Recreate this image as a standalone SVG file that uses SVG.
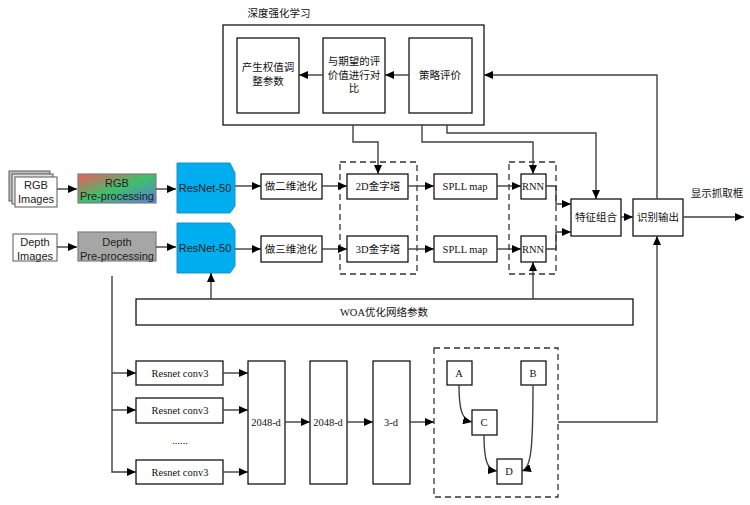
<svg xmlns="http://www.w3.org/2000/svg" width="750" height="505" viewBox="0 0 750 505">
<defs>
<marker id="ah" markerUnits="userSpaceOnUse" markerWidth="9" markerHeight="8" refX="9" refY="4" orient="auto">
<path d="M0,0 L9,4 L0,8 Z" fill="#000"/>
</marker>
<linearGradient id="rgb" x1="0" y1="0" x2="1" y2="1">
<stop offset="0" stop-color="#f25a5a"/>
<stop offset="0.5" stop-color="#3fbf6a"/>
<stop offset="1" stop-color="#5a7fd6"/>
</linearGradient>
<style>
.b{fill:#fff;stroke:#000;stroke-width:1.2}
.d{fill:none;stroke:#333;stroke-width:1.3;stroke-dasharray:6,4}
.c{fill:none;stroke:#404040;stroke-width:1.4}
.t{font-family:"Liberation Serif","Noto Sans CJK SC",serif;font-size:10.5px;fill:#111;text-anchor:middle;dominant-baseline:central}
.s{font-family:"Liberation Sans","Noto Sans CJK SC",sans-serif;font-size:11px;fill:#222;text-anchor:middle;dominant-baseline:central}
.r{fill:#00aeef;stroke:#1c8fc7;stroke-width:1}
</style>
</defs>
<rect width="750" height="505" fill="#fff"/>

<g id="drl">
<text class="t" x="279" y="13">深度强化学习</text>
<rect class="b" x="223" y="25" width="261" height="100"/>
</g>
<g id="gen"><rect class="b" x="237" y="38" width="62" height="75"/>
<text class="t" x="268" y="67">产生权值调</text><text class="t" x="268" y="81">整参数</text></g>
<g id="cmp"><rect class="b" x="323" y="38" width="62" height="75"/>
<text class="t" x="354" y="61">与期望的评</text><text class="t" x="354" y="75">价值进行对</text><text class="t" x="354" y="88">比</text></g>
<g id="pol"><rect class="b" x="409" y="38" width="63" height="75"/>
<text class="t" x="440" y="75">策略评价</text></g>

<g id="rgbimg">
<rect x="9" y="171" width="41" height="30" fill="#bfbfbf" stroke="#595959" stroke-width="1"/>
<rect x="12" y="174" width="41" height="30" fill="#e0e0e0" stroke="#595959" stroke-width="1"/>
<rect x="15" y="177" width="42" height="30" fill="#fff" stroke="#595959" stroke-width="1"/>
<text class="s" x="36" y="185">RGB</text><text class="s" x="36" y="199">Images</text>
</g>
<g id="rgbpre"><rect x="78" y="174" width="78" height="29" fill="url(#rgb)" stroke="#7f7f7f" stroke-width="1.2"/>
<text class="s" x="117" y="183">RGB</text><text class="s" x="117" y="196">Pre-processing</text></g>
<g id="depimg"><rect x="13" y="234" width="44" height="27" fill="#fff" stroke="#595959" stroke-width="1"/>
<text class="s" x="35" y="242">Depth</text><text class="s" x="35" y="256">Images</text></g>
<g id="deppre"><rect x="78" y="232" width="78" height="29" fill="#a6a6a6" stroke="#7f7f7f" stroke-width="1.2"/>
<text class="s" x="117" y="242">Depth</text><text class="s" x="117" y="256">Pre-processing</text></g>

<g id="res1"><path class="r" d="M177,163 H230 L235,173 V206 L230,213 H177 Z"/>
<text class="s" x="205" y="188" fill="#111">ResNet-50</text></g>
<g id="res2"><path class="r" d="M177,223 H230 L235,230 V266 L230,273 H177 Z"/>
<text class="s" x="205" y="248" fill="#111">ResNet-50</text></g>

<g id="pool2"><rect class="b" x="261" y="174" width="61" height="25"/><text class="t" x="291" y="186">做二维池化</text></g>
<g id="pool3"><rect class="b" x="261" y="236" width="61" height="26"/><text class="t" x="291" y="249">做三维池化</text></g>
<g id="pyr"><rect class="d" x="340" y="162" width="77" height="112"/></g>
<g id="py2"><rect class="b" x="347" y="174" width="61" height="25"/><text class="t" x="378" y="186">2D金字塔</text></g>
<g id="py3"><rect class="b" x="347" y="236" width="61" height="26"/><text class="t" x="378" y="249">3D金字塔</text></g>
<g id="spll1"><rect class="b" x="434" y="174" width="63" height="25"/><text class="t" x="465" y="186">SPLL map</text></g>
<g id="spll2"><rect class="b" x="434" y="236" width="63" height="26"/><text class="t" x="465" y="249">SPLL map</text></g>
<g id="rnng"><rect class="d" x="509" y="162" width="47" height="112"/></g>
<g id="rnn1"><rect class="b" x="521" y="174" width="25" height="25"/><text class="t" x="533" y="186" font-size="9.5">RNN</text></g>
<g id="rnn2"><rect class="b" x="521" y="236" width="25" height="26"/><text class="t" x="533" y="249" font-size="9.5">RNN</text></g>
<g id="feat"><rect class="b" x="571" y="199" width="50" height="37"/><text class="t" x="596" y="217">特征组合</text></g>
<g id="rec"><rect class="b" x="633" y="199" width="50" height="37"/><text class="t" x="658" y="217">识别输出</text></g>
<g id="outlbl"><text class="t" x="717" y="193">显示抓取框</text></g>

<g id="woa"><rect class="b" x="136" y="299" width="497" height="26"/><text class="t" x="384" y="312">WOA优化网络参数</text></g>

<g id="rc1"><rect class="b" x="136" y="361" width="87" height="24"/><text class="t" x="180" y="373">Resnet conv3</text></g>
<g id="rc2"><rect class="b" x="136" y="398" width="87" height="25"/><text class="t" x="180" y="410">Resnet conv3</text></g>
<text class="t" x="180" y="440">......</text>
<g id="rc3"><rect class="b" x="136" y="460" width="87" height="24"/><text class="t" x="180" y="472">Resnet conv3</text></g>
<g id="f1"><rect class="b" x="248" y="361" width="37" height="123"/><text class="t" x="266" y="422">2048-d</text></g>
<g id="f2"><rect class="b" x="310" y="361" width="37" height="123"/><text class="t" x="328" y="422">2048-d</text></g>
<g id="f3"><rect class="b" x="373" y="361" width="37" height="123"/><text class="t" x="391" y="422">3-d</text></g>
<g id="graph"><rect class="d" x="434" y="348" width="124" height="149"/></g>
<g id="nA"><rect class="b" x="447" y="361" width="25" height="24"/><text class="t" x="459" y="373">A</text></g>
<g id="nB"><rect class="b" x="521" y="361" width="25" height="24"/><text class="t" x="533" y="373">B</text></g>
<g id="nC"><rect class="b" x="472" y="410" width="25" height="25"/><text class="t" x="484" y="422">C</text></g>
<g id="nD"><rect class="b" x="497" y="459" width="25" height="25"/><text class="t" x="509" y="471">D</text></g>

<g id="connectors" class="c" marker-end="url(#ah)">
<path class="c" d="M57,189 H77" marker-end="url(#ah)"/>
<path class="c" d="M156,189 H176" marker-end="url(#ah)"/>
<path class="c" d="M57,247 H77" marker-end="url(#ah)"/>
<path class="c" d="M156,247 H176" marker-end="url(#ah)"/>
<path class="c" d="M235,186 H261" marker-end="url(#ah)"/>
<path class="c" d="M235,249 H261" marker-end="url(#ah)"/>
<path class="c" d="M322,186 H347" marker-end="url(#ah)"/>
<path class="c" d="M408,186 H434" marker-end="url(#ah)"/>
<path class="c" d="M497,186 H521" marker-end="url(#ah)"/>
<path class="c" d="M322,249 H347" marker-end="url(#ah)"/>
<path class="c" d="M408,249 H434" marker-end="url(#ah)"/>
<path class="c" d="M497,249 H521" marker-end="url(#ah)"/>
<path class="c" d="M546,186 H556 V204 H571" marker-end="url(#ah)"/>
<path class="c" d="M546,249 H556 V232 H571" marker-end="url(#ah)"/>
<path class="c" d="M621,217 H633" marker-end="url(#ah)"/>
<path class="c" d="M683,217 H744" marker-end="url(#ah)"/>
<path class="c" d="M657,199 V75 H484" marker-end="url(#ah)"/>
<path class="c" d="M409,75 H385" marker-end="url(#ah)"/>
<path class="c" d="M323,75 H299" marker-end="url(#ah)"/>
<path class="c" d="M353,125 V142 H378 V174" marker-end="url(#ah)"/>
<path class="c" d="M422,125 V142 H533 V174" marker-end="url(#ah)"/>
<path class="c" d="M447,125 V133 H596 V199" marker-end="url(#ah)"/>
<path class="c" d="M211,299 V273" marker-end="url(#ah)"/>
<path class="c" d="M533,299 V262" marker-end="url(#ah)"/>
<path class="c" d="M112,276 V472 H136" marker-end="url(#ah)"/>
<path class="c" d="M112,373 H136" marker-end="url(#ah)"/>
<path class="c" d="M112,410 H136" marker-end="url(#ah)"/>
<path class="c" d="M223,373 H248" marker-end="url(#ah)"/>
<path class="c" d="M223,410 H248" marker-end="url(#ah)"/>
<path class="c" d="M223,472 H248" marker-end="url(#ah)"/>
<path class="c" d="M285,422 H310" marker-end="url(#ah)"/>
<path class="c" d="M347,422 H373" marker-end="url(#ah)"/>
<path class="c" d="M410,422 H434" marker-end="url(#ah)"/>
<path class="c" d="M558,422 H657 V236" marker-end="url(#ah)"/>
<path class="c" d="M459,385 C459,410 462,420 472,422" marker-end="url(#ah)"/>
<path class="c" d="M484,435 C484,460 487,470 497,471" marker-end="url(#ah)"/>
<path class="c" d="M533,385 C533,450 531,468 522,471" marker-end="url(#ah)"/>
</g>
</svg>
